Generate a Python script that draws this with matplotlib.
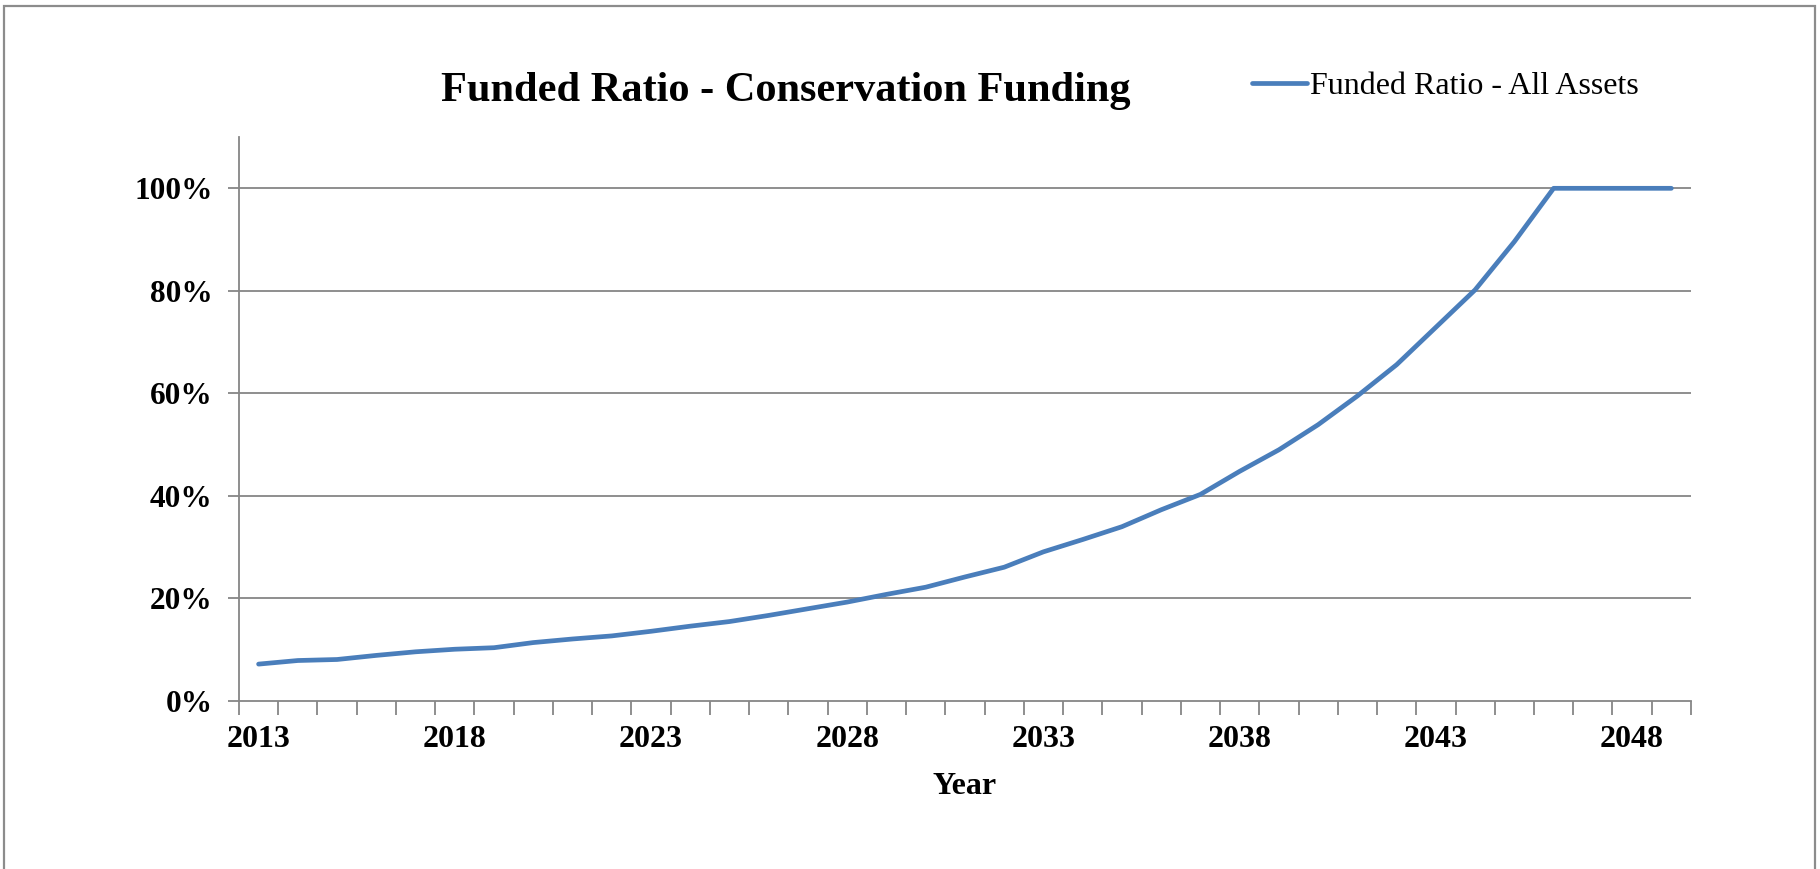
import matplotlib.pyplot as plt
from matplotlib.patches import Rectangle
from matplotlib.ticker import FixedLocator, PercentFormatter

years = list(range(2013, 2050))
funded_ratio = [
    7.2, 7.9, 8.1, 8.9, 9.6, 10.1, 10.4, 11.4, 12.1, 12.7,
    13.6, 14.6, 15.5, 16.7, 18.0, 19.3, 20.8, 22.2, 24.2, 26.1,
    29.1, 31.5, 34.0, 37.3, 40.3, 44.8, 49.0, 53.9, 59.5, 65.6,
    72.9, 80.2, 89.6, 100.0, 100.0, 100.0, 100.0,
]
label_years = [2013, 2018, 2023, 2028, 2033, 2038, 2043, 2048]

plt.rcParams['font.family'] = ['Liberation Serif', 'DejaVu Serif']
grey = '#868686'

fig = plt.figure(figsize=(18.2, 8.69), dpi=100)
ax = fig.add_axes([0.1313, 0.1933, 0.7978, 0.649])

x = list(range(len(years)))
ax.plot(x, funded_ratio, color='#4A7EBB', lw=3.4, solid_capstyle='round',
        solid_joinstyle='round', label='Funded Ratio - All Assets', zorder=3)

ax.set_xlim(-0.5, len(years) - 0.5)
ax.set_ylim(0, 110)

# y axis
ax.set_yticks([0, 20, 40, 60, 80, 100])
ax.yaxis.set_major_formatter(PercentFormatter(decimals=0))
for v in [20, 40, 60, 80, 100]:
    ax.axhline(v, color=grey, lw=1.3, zorder=1)
ax.tick_params(axis='y', length=8, width=1.3, color=grey, pad=11,
               labelsize=22.5)

# x axis: tick marks between categories, labels every 5 years
ax.xaxis.set_major_locator(FixedLocator([i - 0.5 for i in range(len(years) + 1)]))
ax.xaxis.set_major_formatter(plt.NullFormatter())
ax.xaxis.set_minor_locator(FixedLocator([years.index(y) for y in label_years]))
ax.set_xticklabels([str(y) for y in label_years], minor=True)
ax.tick_params(axis='x', which='major', length=10, width=1.3, color=grey)
ax.tick_params(axis='x', which='minor', length=0, pad=17, labelsize=23)

for lab in ax.get_xticklabels(minor=True) + ax.get_yticklabels():
    lab.set_fontweight('bold')

for s in ['top', 'right']:
    ax.spines[s].set_visible(False)
for s in ['left', 'bottom']:
    ax.spines[s].set_color(grey)
    ax.spines[s].set_linewidth(1.3)

ax.set_xlabel('Year', fontsize=23, fontweight='bold', labelpad=13)

fig.text(0.432, 0.895, 'Funded Ratio - Conservation Funding', ha='center',
         va='center', fontsize=30.5, fontweight='bold')

ax.legend(loc='center left', bbox_to_anchor=(0.681, 0.901),
          bbox_transform=fig.transFigure, frameon=False, fontsize=23,
          handlelength=1.7, handletextpad=0.1, borderaxespad=0)

fig.patches.append(Rectangle((0.002, -0.05), 0.995, 1.043,
                             transform=fig.transFigure, fill=False,
                             edgecolor='#8c8c8c', lw=1.6))

fig.savefig('out.png', dpi=100)
